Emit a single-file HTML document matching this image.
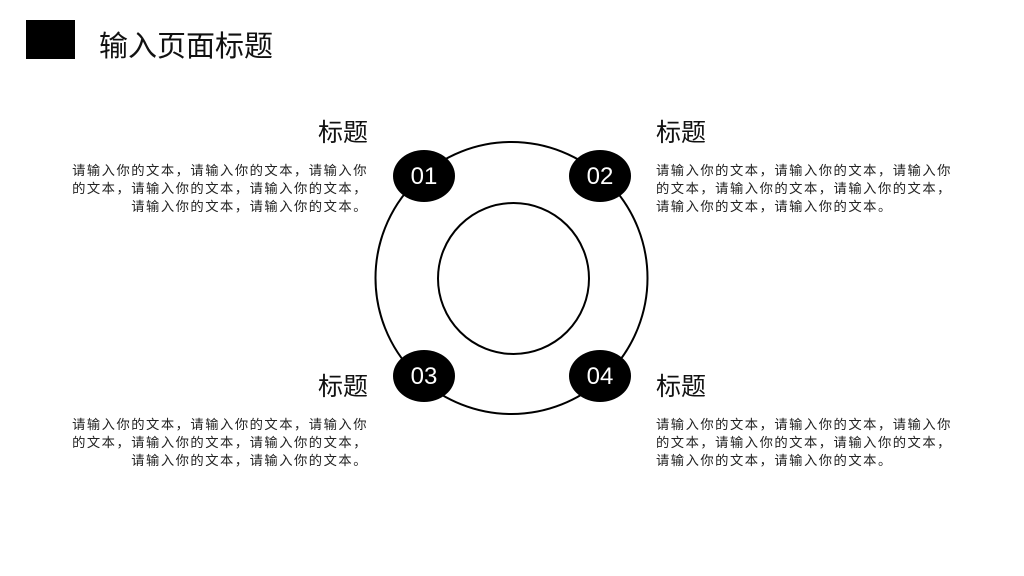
<!DOCTYPE html>
<html><head><meta charset="utf-8"><style>
body{margin:0;width:1024px;height:576px;background:#fff;position:relative;overflow:hidden;font-family:"Liberation Sans","Noto Sans CJK SC",sans-serif;color:#111}
.a{position:absolute;white-space:nowrap}
.t{font-size:25px}
.p{font-size:13.3px;line-height:18px;color:#222;letter-spacing:1.5px}
.r{text-align:right}
</style></head><body>
<div class="a" style="left:26px;top:20px;width:49px;height:39px;background:#000"></div>
<div class="a" style="left:99px;top:23px;font-size:29px;">输入页面标题</div>
<svg class="a" style="left:0;top:0" width="1024" height="576">
<circle cx="511.5" cy="278" r="136" fill="none" stroke="#000" stroke-width="2"/>
<circle cx="513.5" cy="278.5" r="75.5" fill="none" stroke="#000" stroke-width="2"/>
<g fill="#000"><ellipse cx="424" cy="176" rx="31" ry="26"/><ellipse cx="600" cy="176" rx="31" ry="26"/><ellipse cx="424" cy="376" rx="31" ry="26"/><ellipse cx="600" cy="376" rx="31" ry="26"/></g>
<g fill="#fff" font-family="Liberation Sans" font-size="24" text-anchor="middle">
<text x="424" y="184">01</text><text x="600" y="184">02</text><text x="424" y="384">03</text><text x="600" y="384">04</text></g>
</svg>
<div class="a t" style="left:318px;top:113px">标题</div>
<div class="a t" style="left:656px;top:113px">标题</div>
<div class="a t" style="left:318px;top:367px">标题</div>
<div class="a t" style="left:656px;top:367px">标题</div>
<div class="a p r" style="right:656px;top:162px">请输入你的文本，请输入你的文本，请输入你<br>的文本，请输入你的文本，请输入你的文本，<br>请输入你的文本，请输入你的文本。</div>
<div class="a p" style="left:656px;top:162px">请输入你的文本，请输入你的文本，请输入你<br>的文本，请输入你的文本，请输入你的文本，<br>请输入你的文本，请输入你的文本。</div>
<div class="a p r" style="right:656px;top:416px">请输入你的文本，请输入你的文本，请输入你<br>的文本，请输入你的文本，请输入你的文本，<br>请输入你的文本，请输入你的文本。</div>
<div class="a p" style="left:656px;top:416px">请输入你的文本，请输入你的文本，请输入你<br>的文本，请输入你的文本，请输入你的文本，<br>请输入你的文本，请输入你的文本。</div>
</body></html>
